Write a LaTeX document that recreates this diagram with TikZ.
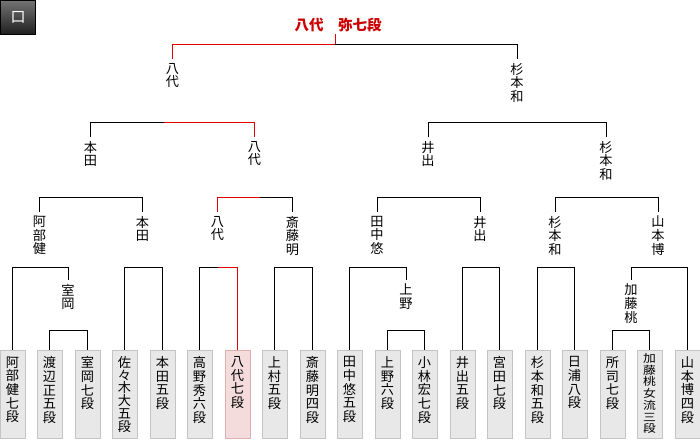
\documentclass[tikz,border=0pt]{standalone}
\usepackage{fontspec}
\usepackage{graphicx}
\setmainfont{Noto Sans CJK JP}
\usetikzlibrary{shadings}
\definecolor{winred}{HTML}{E00000}
\definecolor{titred}{HTML}{CC0000}
\definecolor{boxfill}{HTML}{E8E8E8}
\definecolor{boxline}{HTML}{C4C4C4}
\definecolor{redfill}{HTML}{F4DCDC}
\definecolor{redline}{HTML}{DDB0B0}
\newcommand\pnm[2][13.7]{\parbox[c][76pt][t]{25pt}{\centering\fontsize{13.2}{#1}\selectfont #2}}
\newcommand\pnms[1]{\scalebox{1}[0.855]{\parbox[c][88.9pt][t]{25pt}{\centering\vspace*{-3.5pt}\fontsize{12.8}{13.7}\selectfont #1}}}
\tikzset{
  player/.style={draw=boxline, fill=boxfill, anchor=north, minimum width=25pt,
    minimum height=88pt, inner xsep=0pt, inner ysep=6pt, line width=1pt},
  redplayer/.style={player, draw=redline, fill=redfill},
  lab/.style={anchor=north, align=center, inner sep=0pt, outer xsep=0pt, outer ysep=4pt,
    font=\fontsize{13.2}{13.7}\selectfont},
  conn/.style={line width=1pt, black},
  wconn/.style={line width=1pt, winred},
}
\begin{document}
\begin{tikzpicture}[x=1pt, y=-1pt]
\useasboundingbox (0,0) rectangle (700,440);
% corner tag
\node[draw=black, top color=black!55, bottom color=black!88, minimum width=35pt,
  minimum height=34pt, inner sep=0pt, text=white, font=\fontsize{15}{15}\selectfont]
  (corner) at (18,17.5) {口};
% title
\node[inner sep=0pt, outer ysep=3pt, text=titred, font=\fontsize{14.5}{14.5}\selectfont\bfseries]
  (title) at (338,24.5) {八代　弥七段};
% levels
\coordinate (h0) at (0,330);
\coordinate (h1) at (0,267);
\coordinate (h2) at (0,197);
\coordinate (h3) at (0,122);
\coordinate (h4) at (0,44);
\coordinate (s2) at (260,197);
\coordinate (s3) at (164,122);
\coordinate (s4) at (335,44);
% players
\node[player] (b1) at (12.5,350) {\pnm{阿\\部\\健\\七\\段}};
\node[player] (b2) at (49.5,350) {\pnm{渡\\辺\\正\\五\\段}};
\node[player] (b3) at (87.5,350) {\pnm{室\\岡\\七\\段}};
\node[player] (b4) at (124.5,350) {\pnm[12.7]{佐\\々\\木\\大\\五\\段}};
\node[player] (b5) at (162.5,350) {\pnm{本\\田\\五\\段}};
\node[player] (b6) at (199.5,350) {\pnm{高\\野\\秀\\六\\段}};
\node[redplayer] (b7) at (237.5,350) {\pnm{八\\代\\七\\段}};
\node[player] (b8) at (274.5,350) {\pnm{上\\村\\五\\段}};
\node[player] (b9) at (312.5,350) {\pnm{斎\\藤\\明\\四\\段}};
\node[player] (b10) at (349.5,350) {\pnm{田\\中\\悠\\五\\段}};
\node[player] (b11) at (387.5,350) {\pnm{上\\野\\六\\段}};
\node[player] (b12) at (424.5,350) {\pnm{小\\林\\宏\\七\\段}};
\node[player] (b13) at (462.5,350) {\pnm{井\\出\\五\\段}};
\node[player] (b14) at (499.5,350) {\pnm{宮\\田\\七\\段}};
\node[player] (b15) at (537.5,350) {\pnm{杉\\本\\和\\五\\段}};
\node[player] (b16) at (574.5,350) {\pnm{日\\浦\\八\\段}};
\node[player] (b17) at (612.5,350) {\pnm{所\\司\\七\\段}};
\node[player] (b18) at (649.5,350) {\pnms{加\\藤\\桃\\女\\流\\三\\段}};
\node[player] (b19) at (687.5,350) {\pnm{山\\本\\博\\四\\段}};
% round 0 winners
\node[lab] (muro) at (68,280) {室\\岡};
\node[lab] (ueno) at (406,280) {上\\野};
\node[lab] (kato) at (631,280) {加\\藤\\桃};
% round 1 winners
\node[lab] (abe1) at (39.5,212) {阿\\部\\健};
\node[lab] (honda1) at (142.5,212) {本\\田};
\node[lab] (yashiro1) at (217.5,212) {八\\代};
\node[lab] (saito1) at (292.5,212) {斎\\藤\\明};
\node[lab] (tanaka1) at (377,212) {田\\中\\悠};
\node[lab] (ide1) at (480,212) {井\\出};
\node[lab] (sugi1) at (555,212) {杉\\本\\和};
\node[lab] (yama1) at (658,212) {山\\本\\博};
% round 2 winners
\node[lab] (honda2) at (90.5,137) {本\\田};
\node[lab] (yashiro2) at (254.5,137) {八\\代};
\node[lab] (ide2) at (428,137) {井\\出};
\node[lab] (sugi2) at (606,137) {杉\\本\\和};
% round 3 winners
\node[lab] (yashiro3) at (172.5,59) {八\\代};
\node[lab] (sugi3) at (517,59) {杉\\本\\和};
% round 0 matches
\draw[conn] (b2.north) -- (b2.north |- h0) -- (b3.north |- h0) -- (b3.north);
\draw[conn] (b11.north) -- (b11.north |- h0) -- (b12.north |- h0) -- (b12.north);
\draw[conn] (b17.north) -- (b17.north |- h0) -- (b18.north |- h0) -- (b18.north);
% round 1 matches
\draw[conn] (b1.north) -- (b1.north |- h1) -- (muro.north |- h1) -- (muro.north);
\draw[conn] (b4.north) -- (b4.north |- h1) -- (b5.north |- h1) -- (b5.north);
\draw[conn] (b6.north) -- (b6.north |- h1) -- (yashiro1.north |- h1);
\draw[wconn] (yashiro1.north |- h1) -- (b7.north |- h1) -- (b7.north);
\draw[conn] (b8.north) -- (b8.north |- h1) -- (b9.north |- h1) -- (b9.north);
\draw[conn] (b10.north) -- (b10.north |- h1) -- (ueno.north |- h1) -- (ueno.north);
\draw[conn] (b13.north) -- (b13.north |- h1) -- (b14.north |- h1) -- (b14.north);
\draw[conn] (b15.north) -- (b15.north |- h1) -- (b16.north |- h1) -- (b16.north);
\draw[conn] (kato.north) -- (kato.north |- h1) -- (b19.north |- h1) -- (b19.north);
% round 2 matches
\draw[conn] (abe1.north) -- (abe1.north |- h2) -- (honda1.north |- h2) -- (honda1.north);
\draw[wconn] (yashiro1.north) -- (yashiro1.north |- h2) -- (s2);
\draw[conn] (s2) -- (saito1.north |- h2) -- (saito1.north);
\draw[conn] (tanaka1.north) -- (tanaka1.north |- h2) -- (ide1.north |- h2) -- (ide1.north);
\draw[conn] (sugi1.north) -- (sugi1.north |- h2) -- (yama1.north |- h2) -- (yama1.north);
% round 3 matches
\draw[conn] (honda2.north) -- (honda2.north |- h3) -- (s3);
\draw[wconn] (s3) -- (yashiro2.north |- h3) -- (yashiro2.north);
\draw[conn] (ide2.north) -- (ide2.north |- h3) -- (sugi2.north |- h3) -- (sugi2.north);
% final
\draw[wconn] (yashiro3.north) -- (yashiro3.north |- h4) -- (s4) -- (s4 |- title.south);
\draw[conn] (s4) -- (sugi3.north |- h4) -- (sugi3.north);
\end{tikzpicture}
\end{document}
